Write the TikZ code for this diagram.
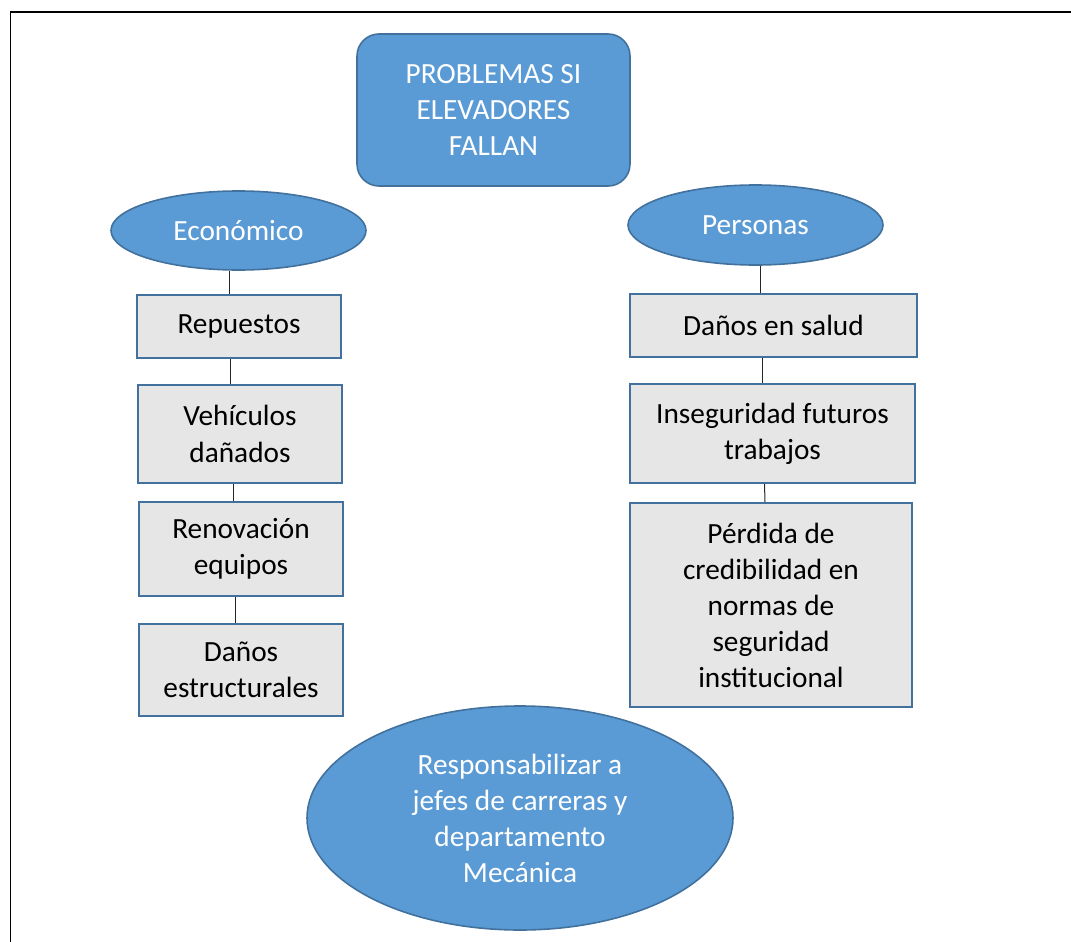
\documentclass[tikz,border=0pt]{standalone}
\usepackage{fontspec}
\setmainfont{Carlito}
\usepackage{tikz}
\usetikzlibrary{shapes.geometric}

\definecolor{azul}{RGB}{91,155,213}
\definecolor{borde}{RGB}{65,113,156}
\definecolor{gris}{RGB}{231,230,230}

\begin{document}
\begin{tikzpicture}[
		x=1pt, y=-1pt,
		txt/.style={font=\fontsize{29.3}{36}\selectfont, align=center, inner sep=0pt},
		cab/.style={txt, ellipse, fill=azul, draw=borde, line width=1.6pt, text=white},
		caja/.style={txt, rectangle, fill=gris, draw=borde, line width=2pt, text=black},
		tit/.style={txt, rectangle, rounded corners=22pt, fill=azul, draw=borde, line width=1.6pt, text=white},
		une/.style={line width=1pt, draw=black!85}]
	\useasboundingbox (0,0) rectangle (1071,942);
	%% frame
	\draw[line width=1.4pt] (10.5,942) -- (10.5,12) -- (1071,12);
	%% title
	\node (titulo) at (493.5,110) [tit, minimum width=273pt, minimum height=152pt] {PROBLEMAS SI\\ELEVADORES\\FALLAN};
	%% headings
	\node (econ) at (238.5,230.5) [cab, minimum width=255pt, minimum height=79pt] {Económico};
	\node (pers) at (755.5,225) [cab, minimum width=255pt, minimum height=80pt] {Personas};
	%% left column
	\node (rep) at (239,326.5) [caja, minimum width=204pt, minimum height=63pt] {Repuestos};
	\node (veh) at (240,434) [caja, minimum width=204pt, minimum height=98pt] {Vehículos\\[1.5pt]dañados};
	\node (ren) at (241,549) [caja, minimum width=204pt, minimum height=94pt] {Renovación\\equipos};
	\node (dest) at (241,670) [caja, minimum width=204pt, minimum height=92pt] {Daños\\estructurales};
	%% right column
	\node (dsal) at (773.5,325.5) [caja, minimum width=287pt, minimum height=63pt] {Daños en salud};
	\node (inseg) at (772.5,433.5) [caja, minimum width=285pt, minimum height=99pt] {Inseguridad futuros\\trabajos};
	\node (perd) at (771,605) [caja, minimum width=282pt, minimum height=204pt] {Pérdida de\\credibilidad en\\normas de\\seguridad\\institucional};
	%% bottom
	\node (resp) at (520,818) [cab, minimum width=426pt, minimum height=224pt] {Responsabilizar a\\jefes de carreras y\\departamento\\Mecánica};
	%% connectors
	\draw[une] ([xshift=-9.5pt]econ.south) -- ([xshift=-10pt]rep.north);
	\draw[une] ([xshift=-9pt]rep.south) -- ([xshift=-10pt]veh.north);
	\draw[une] ([xshift=-7pt]veh.south) -- ([xshift=-8pt]ren.north);
	\draw[une] ([xshift=-6pt]ren.south) -- ([xshift=-6pt]dest.north);
	\draw[une] ([xshift=5pt]pers.south) -- ([xshift=-13pt]dsal.north);
	\draw[une] ([xshift=-11pt]dsal.south) -- ([xshift=-10pt]inseg.north);
	\draw[une] ([xshift=-8pt]inseg.south) -- ([xshift=-6pt]perd.north);
\end{tikzpicture}
\end{document}
